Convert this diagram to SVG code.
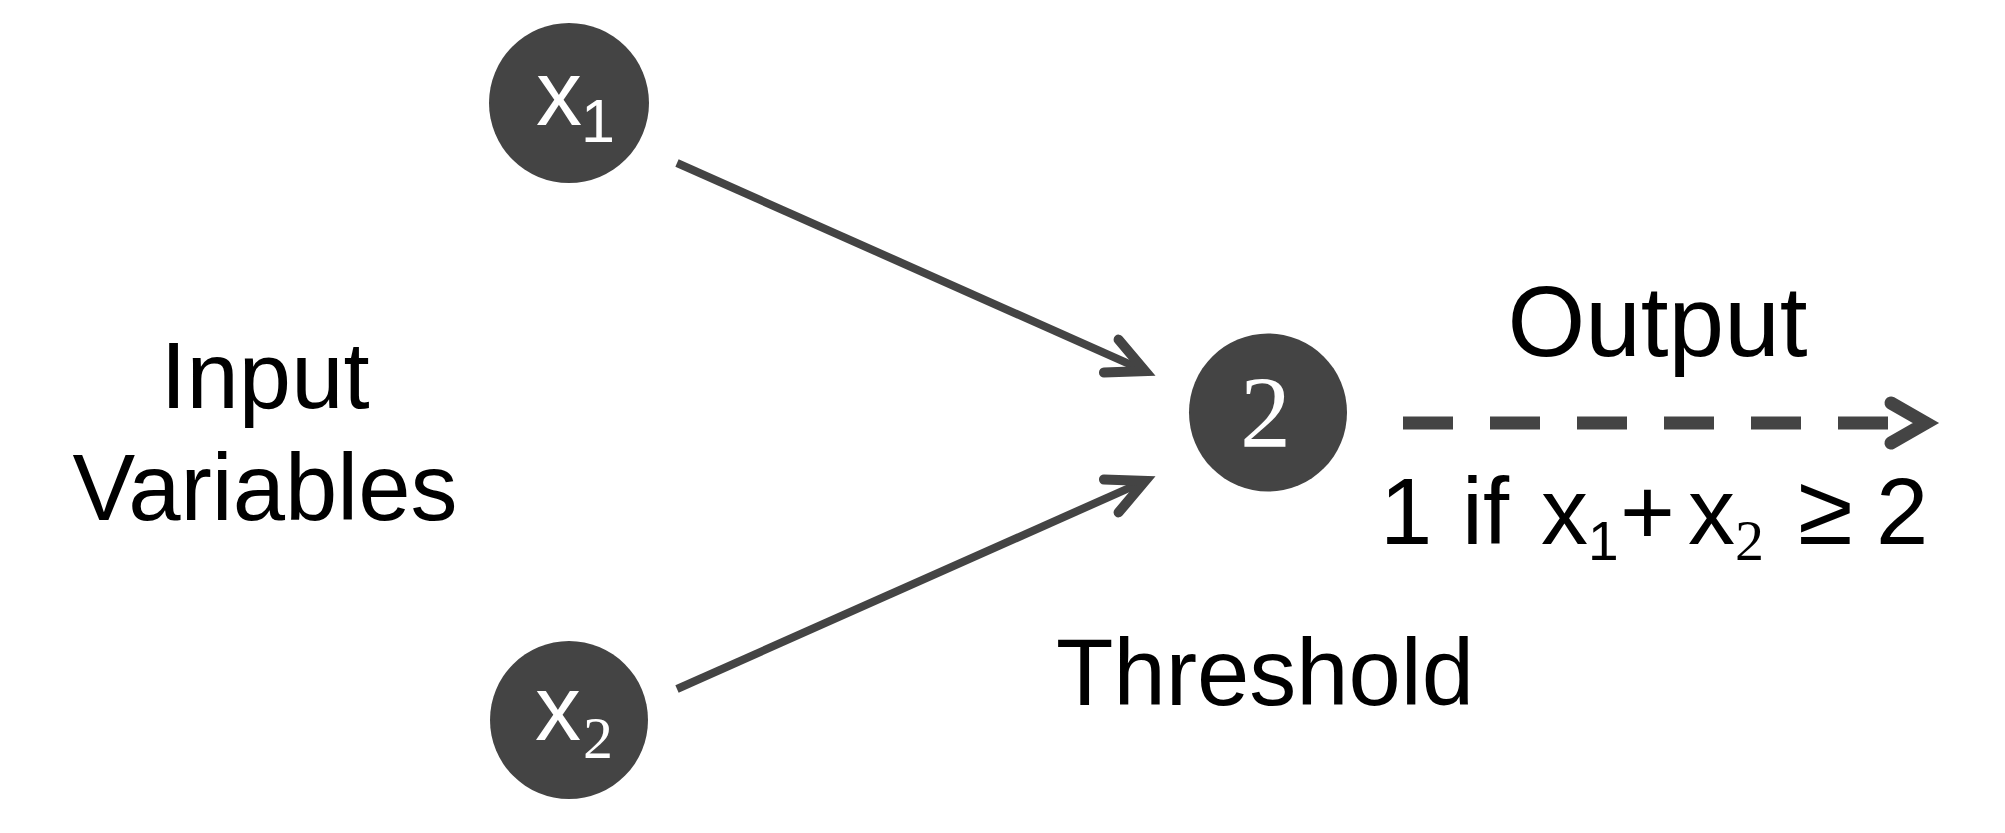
<svg xmlns="http://www.w3.org/2000/svg" width="2005" height="833" viewBox="0 0 2005 833">
  <style>
    .node { fill: #444444; }
    .lbl { font-family: "Liberation Sans", Arial, sans-serif; fill: #000000; }
    .nlbl { font-family: "Liberation Sans", Arial, sans-serif; fill: #ffffff; }
    .serif { font-family: "Liberation Serif", "Times New Roman", serif; }
    .edge { fill: none; stroke: #444444; stroke-width: 8; stroke-linecap: butt; }
    .dash { fill: none; stroke: #444444; stroke-width: 13; stroke-dasharray: 50 37; }
    .head { fill: none; stroke: #444444; stroke-linecap: round; stroke-linejoin: miter; }
  </style>
  <defs>
    <marker id="arrow" markerUnits="userSpaceOnUse" orient="auto" refX="-10" refY="0" markerWidth="80" markerHeight="80" overflow="visible">
      <path d="M-49,-18 L-12,0 L-49,18" class="head" stroke-width="10"/>
    </marker>
  </defs>
  <rect width="2005" height="833" fill="#ffffff"/>

  <g id="connectors">
    <path class="edge" d="M677,163 L1146.9,371.9" marker-end="url(#arrow)"/>
    <path class="edge" d="M677,689 L1146.9,480.1" marker-end="url(#arrow)"/>
    <path class="dash" d="M1403,423 L1888,423"/>
    <polyline class="head" stroke-width="13" points="1891,403 1926,423 1891,443"/>
  </g>

  <g id="node-x1">
    <circle class="node" cx="569" cy="103" r="80"/>
    <text class="nlbl" x="536" y="125" font-size="92">x<tspan x="581" y="142" font-size="61">1</tspan></text>
  </g>

  <g id="node-x2">
    <circle class="node" cx="569" cy="720" r="79"/>
    <text class="nlbl" x="535" y="740" font-size="92">x<tspan class="serif" x="583" y="758" font-size="60">2</tspan></text>
  </g>

  <g id="node-threshold">
    <circle class="node" cx="1268" cy="412.5" r="79"/>
    <text class="nlbl serif" x="1265.5" y="447" font-size="102" text-anchor="middle">2</text>
  </g>

  <g id="label-input">
    <text class="lbl" x="265" y="408" font-size="94" text-anchor="middle">Input</text>
    <text class="lbl" x="265" y="520" font-size="94" text-anchor="middle">Variables</text>
  </g>

  <g id="label-threshold">
    <text class="lbl" x="1265" y="705" font-size="94" text-anchor="middle">Threshold</text>
  </g>

  <g id="label-output">
    <text class="lbl" x="1657.5" y="356" font-size="100" text-anchor="middle">Output</text>
    <text class="lbl" font-size="94" y="544"><tspan x="1380">1</tspan><tspan x="1462">if</tspan><tspan x="1541">x</tspan><tspan x="1588" y="560" font-size="55">1</tspan><tspan x="1620" y="544">+</tspan><tspan x="1688">x</tspan><tspan class="serif" x="1735" y="560" font-size="58">2</tspan><tspan x="1798" y="544" font-size="100">≥</tspan><tspan x="1876" font-size="94">2</tspan></text>
  </g>
</svg>
